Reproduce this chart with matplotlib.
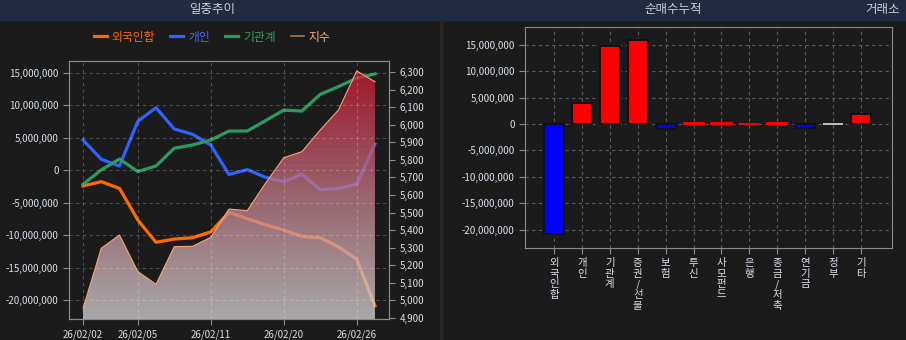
import numpy as np
import matplotlib
matplotlib.use('Agg')
import matplotlib.pyplot as plt
from matplotlib.colors import LinearSegmentedColormap
from matplotlib.lines import Line2D
from matplotlib.patches import Rectangle
from matplotlib.ticker import FuncFormatter, MultipleLocator
from matplotlib.transforms import blended_transform_factory

plt.rcParams['font.family'] = ['Noto Sans CJK KR', 'DejaVu Sans']

# 일중추이 (cumulative net buying by day + index)
dates = ['26/02/02', '26/02/03', '26/02/04', '26/02/05', '26/02/06', '26/02/09',
         '26/02/10', '26/02/11', '26/02/12', '26/02/13', '26/02/19', '26/02/20',
         '26/02/23', '26/02/24', '26/02/25', '26/02/26', '26/02/27']
foreign = [-2420000, -1750000, -2800000, -7660000, -11100000, -10600000, -10400000,
           -9500000, -6500000, -7450000, -8400000, -9200000, -10200000, -10400000,
           -11800000, -13700000, -20900000]
retail = [4670000, 1700000, 660000, 7550000, 9650000, 6370000, 5550000, 3900000,
          -650000, 100000, -1080000, -1750000, -620000, -3000000, -2800000,
          -2160000, 4050000]
inst = [-2160000, 50000, 1740000, -200000, 660000, 3400000, 3900000, 4670000,
        6050000, 6050000, 7650000, 9270000, 9140000, 11700000, 12900000,
        14200000, 14850000]
kospi = [4955, 5297, 5372, 5164, 5092, 5306, 5308, 5359, 5520, 5511, 5667, 5812,
         5847, 5970, 6084, 6306, 6245]
date_ticks = ['26/02/02', '26/02/05', '26/02/11', '26/02/20', '26/02/26']

# 순매수누적 by investor
investors = ['외국인합', '개인', '기관계', '증권/선물', '보험', '투신', '사모펀드',
             '은행', '종금/저축', '연기금', '정부', '기타']
net_buy = [-20900000, 3900000, 14800000, 16000000, -900000, 200000, 200000,
           100000, 200000, -700000, 0, 2000000]

bg = '#1b1b1b'
tick_col = '#d8e0ea'
spine_col = '#8c8c8c'

fig = plt.figure(figsize=(9.06, 3.4), dpi=100, facecolor=bg)

# header bar
fig.patches.append(Rectangle((0, 1 - 20 / 340), 1, 20 / 340, transform=fig.transFigure,
                             color='#1e2b40', zorder=0))
fig.patches.append(Rectangle((440 / 906, 0), 2 / 906, 1 - 20 / 340, transform=fig.transFigure,
                             color='#262626', zorder=0))
hdr_y = 1 - 10 / 340
fig.text(212 / 906, hdr_y, '일중추이', color='#c8d0d8', fontsize=9, ha='center', va='center')
fig.text(673 / 906, hdr_y, '순매수누적', color='#c8d0d8', fontsize=9, ha='center', va='center')
fig.text(883 / 906, hdr_y, '거래소', color='#c8d0d8', fontsize=9, ha='center', va='center')

fmt = FuncFormatter(lambda v, p: f'{v:,.0f}')

def style(a):
    a.set_facecolor(bg)
    for s in a.spines.values():
        s.set_color(spine_col)
    a.tick_params(colors=spine_col, labelcolor=tick_col, labelsize=7, length=4)

# ---- left: 일중추이 ----
x = np.arange(len(dates))
ax = fig.add_axes([69 / 906, 21 / 340, 320 / 906, 258 / 340])
style(ax)
ax.plot(x, foreign, color='#ff6a00', lw=2.3)
ax.plot(x, retail, color='#2f62ff', lw=2.3)
ax.plot(x, inst, color='#2e9a5e', lw=2.3)
ax.set_xlim(-0.77, 16.77)
ax.set_ylim(-22930000, 16850000)
ax.yaxis.set_major_locator(MultipleLocator(5000000))
ax.yaxis.set_major_formatter(fmt)
tick_idx = [dates.index(d) for d in date_ticks]
ax.set_xticks(tick_idx)
ax.set_xticklabels(date_ticks)

ax2 = ax.twinx()
style(ax2)
ax2.set_ylim(4894, 6363)
ax2.yaxis.set_major_locator(MultipleLocator(100))
ax2.yaxis.set_major_formatter(fmt)
poly = ax2.fill_between(x, kospi, 4894, facecolor='none', edgecolor='none')
cmap = LinearSegmentedColormap.from_list('kospi', ['#d6d6d6', '#c27c8a', '#cc1830'])
grad = np.linspace(0, 1, 256).reshape(-1, 1)
im = ax2.imshow(grad, extent=[x[0], x[-1], 4894, max(kospi)], origin='lower', cmap=cmap,
                aspect='auto', alpha=0.76, zorder=1)
im.set_clip_path(poly.get_paths()[0], transform=ax2.transData)
ax2.plot(x, kospi, color='#f0a878', lw=0.8, zorder=2)
ax2.set_xlim(-0.77, 16.77)
ax2.set_ylim(4894, 6363)

# grid drawn on top so it shows through the index area
grid_kw = dict(color='white', alpha=0.22, ls=(0, (3, 3)), lw=0.8, zorder=3)
for t in tick_idx:
    ax2.axvline(t, **grid_kw)
htrans = blended_transform_factory(ax2.transAxes, ax.transData)
for t in np.arange(-20000000, 15000001, 5000000):
    ax2.plot([0, 1], [t, t], transform=htrans, **grid_kw)

handles = [Line2D([], [], color='#ff6a00', lw=2.3),
           Line2D([], [], color='#2f62ff', lw=2.3),
           Line2D([], [], color='#2e9a5e', lw=2.3),
           Line2D([], [], color='#a07a5a', lw=1.2)]
leg = ax.legend(handles, ['외국인합', '개인', '기관계', '지수'], loc='center',
                bbox_to_anchor=(0.447, 1.093), ncol=4, frameon=False, fontsize=8.5,
                handlelength=1.1, handletextpad=0.4, columnspacing=1.3)
for txt, c in zip(leg.get_texts(), ['#ff6a00', '#3a6cff', '#2fa060', '#f5b27a']):
    txt.set_color(c)

# ---- right: 순매수누적 ----
bx = fig.add_axes([525 / 906, 92 / 340, 367 / 906, 221 / 340])
style(bx)
bx.set_axisbelow(True)
bx.grid(color='#5a5a5a', ls=(0, (3, 3)), lw=0.8)
pos = np.arange(len(investors))
colors = ['#ff0000' if v > 0 else '#0000ff' if v < 0 else '#c0c0c0' for v in net_buy]
# tiny bars are drawn with an edge in their own colour so they stay visible
edges = ['#111111' if abs(v) >= 500000 else c for v, c in zip(net_buy, colors)]
bx.bar(pos, net_buy, width=0.72, color=colors, edgecolor=edges, linewidth=1.4)
bx.set_xlim(-1.04, 12.11)
bx.set_ylim(-23500000, 18400000)
bx.yaxis.set_major_locator(MultipleLocator(5000000))
bx.yaxis.set_major_formatter(fmt)
bx.set_xticks(pos)
bx.set_xticklabels(['\n'.join(s) for s in investors], linespacing=1.05, fontsize=7.5,
                   va='top')

fig.savefig('out.png', dpi=100, facecolor=bg)
